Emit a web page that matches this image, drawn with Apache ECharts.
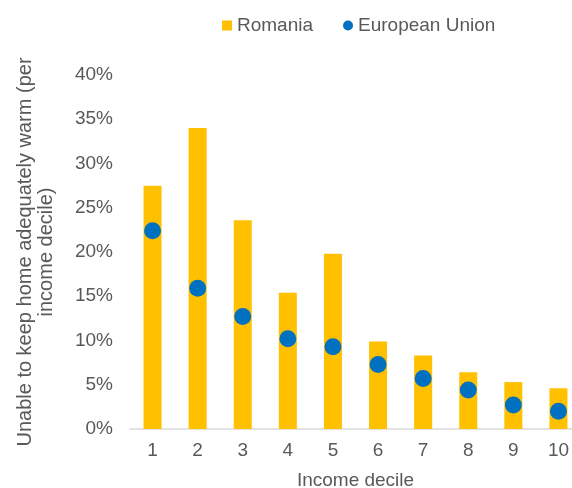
<!DOCTYPE html>
<html>
<head>
<meta charset="utf-8">
<script src="https://cdn.jsdelivr.net/npm/echarts@6/dist/echarts.min.js"></script>
<style>
  html, body { margin: 0; padding: 0; background: #fff; }
  #chart { width: 572px; height: 488px; }
</style>
</head>
<body>
<div id="chart"></div>
<script>
const deciles = ['1', '2', '3', '4', '5', '6', '7', '8', '9', '10']
const romania = [27.5, 34.0, 23.6, 15.4, 19.8, 9.9, 8.3, 6.4, 5.3, 4.6]
const europeanUnion = [22.4, 15.9, 12.7, 10.2, 9.3, 7.3, 5.7, 4.4, 2.7, 2.0]

const textColor = '#595959'
const chart = echarts.init(document.getElementById('chart'))

chart.setOption({
    animation: false,
    textStyle: { fontFamily: 'Liberation Sans, Arial, sans-serif' },
    legend: {
        top: 11,
        left: 217,
        itemGap: 30,
        itemWidth: 10,
        itemHeight: 10,
        textStyle: { color: textColor, fontSize: 19 },
        data: [
            { name: 'Romania', icon: 'rect' },
            { name: 'European Union', icon: 'circle', itemStyle: { opacity: 1 } }
        ]
    },
    grid: {
        left: 130,
        right: -9,
        top: 75,
        bottom: 59,
        containLabel: false,
        outerBoundsMode: 'none'
    },
    xAxis: {
        type: 'category',
        data: deciles,
        name: 'Income decile',
        nameLocation: 'middle',
        nameGap: 42,
        nameTextStyle: { color: textColor, fontSize: 19 },
        axisLine: { lineStyle: { color: '#d9d9d9', width: 1.5 } },
        axisTick: { show: false },
        axisLabel: { color: textColor, fontSize: 19, margin: 12 }
    },
    yAxis: {
        type: 'value',
        min: 0,
        max: 40,
        interval: 5,
        name: 'Unable to keep home adequately warm (per\nincome decile)',
        nameLocation: 'middle',
        nameRotate: 90,
        nameGap: 73,
        nameTextStyle: { color: textColor, fontSize: 20, lineHeight: 21 },
        axisLine: { show: false },
        axisTick: { show: false },
        splitLine: { show: false },
        axisLabel: {
            color: textColor,
            fontSize: 19,
            margin: 17,
            formatter: (v) => v + '%'
        }
    },
    series: [
        {
            name: 'Romania',
            type: 'bar',
            data: romania,
            barWidth: 18,
            itemStyle: { color: '#ffc000' }
        },
        {
            name: 'European Union',
            type: 'scatter',
            data: europeanUnion,
            symbol: 'circle',
            symbolSize: 17,
            itemStyle: { color: '#0070c0', opacity: 1 }
        }
    ]
})
</script>
</body>
</html>
